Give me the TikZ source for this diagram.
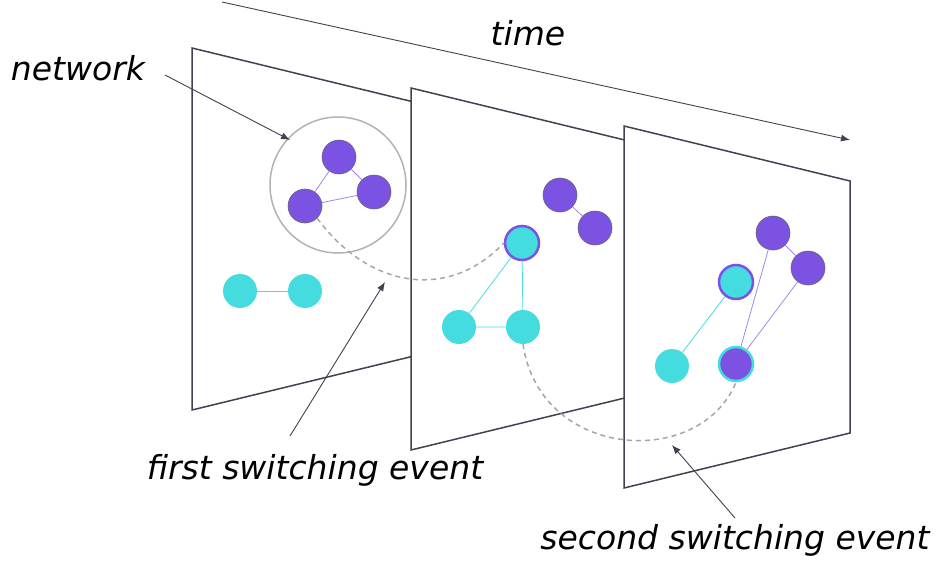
\documentclass[tikz,border=0pt]{standalone}
\usepackage{fontspec}
\setmainfont{DejaVu Sans}
\definecolor{netpurple}{HTML}{7B52E2}
\definecolor{netcyan}{HTML}{45DCE0}
\definecolor{framegray}{HTML}{3F4250}
\tikzset{
  panel/.style={draw=framegray, line width=1.5pt, fill=white},
  vp/.style={circle, fill=netpurple, draw=framegray!80, line width=0.6pt, minimum size=34pt, inner sep=0pt},
  vc/.style={circle, fill=netcyan, minimum size=34pt, inner sep=0pt},
  vcp/.style={vc, draw=netpurple, line width=2.5pt},
  vpc/.style={vp, draw=netcyan, line width=2.5pt},
  pedge/.style={netpurple!70, line width=0.8pt},
  cedge/.style={netcyan, line width=0.8pt},
  switch/.style={gray!70, dash pattern=on 5pt off 4pt, line width=1.5pt},
  lbl/.style={font=\itshape\fontsize{33}{38}\selectfont},
  pointer/.style={-{Latex[length=9pt,width=7pt]}, framegray, line width=0.9pt}
}
\usetikzlibrary{arrows.meta}
\begin{document}
\begin{tikzpicture}[x=1pt, y=-1pt]
  \useasboundingbox (0,0) rectangle (951,563);
  % Define the panel paths for easier readability
  \def\panel#1#2{(#1,#2) -- ++(226,55) -- ++(0,252) -- ++(-226,55) -- cycle}

  % Time axis
  \draw[pointer] (222,2) -- (850,140);
  \node[lbl] (time) at (528,33) {time};

  % First panel
  \filldraw[panel] \panel{192}{48};
  \draw[gray!60, line width=1.5pt] (338,185) circle (68);
  \node[vp] (a1) at (339,157) {};
  \node[vp] (b1) at (374,192) {};
  \node[vp] (c1) at (305,206) {};
  \node[vc] (d1) at (240,291) {};
  \node[vc] (e1) at (305,291) {};
  \draw[pedge] (a1) -- (b1) (a1) -- (c1) (c1) -- (b1);
  \draw[cedge] (d1) -- (e1);

  % Second panel
  \filldraw[panel] \panel{411}{88};
  \node[vp] (a2) at (560,195) {};
  \node[vp] (b2) at (595,228) {};
  \node[vcp] (c2) at (522,243) {};
  \node[vc] (d2) at (459,327) {};
  \node[vc] (e2) at (523,327) {};
  \draw[pedge] (a2) -- (b2);
  \draw[cedge] (c2) -- (d2) (d2) -- (e2) (c2) -- (e2);

  % Third panel
  \filldraw[panel] \panel{624}{126};
  \node[vp] (a3) at (773,233) {};
  \node[vp] (b3) at (808,268) {};
  \node[vcp] (c3) at (736,282) {};
  \node[vc] (d3) at (672,366) {};
  \node[vpc] (e3) at (736,364) {};
  \draw[pedge] (a3) -- (b3) (a3) -- (e3) (b3) -- (e3);
  \draw[cedge] (c3) -- (d3);

  % Switching events
  \draw[switch] (c1.south east) .. controls (370,290) and (450,300) .. (c2.west);
  \draw[switch] (e2.south) .. controls (540,460) and (700,470) .. (e3.south);

  % Labels
  \node[lbl] (net) at (78,68) {network};
  \node[lbl] (first) at (315,470) {first switching event};
  \node[lbl] (second) at (735,540) {second switching event};
  \draw[pointer] (165,75) -- (290,140);
  \draw[pointer] (290,436) -- (385,282);
  \draw[pointer] (735,518) -- (672,445);
\end{tikzpicture}
\end{document}
